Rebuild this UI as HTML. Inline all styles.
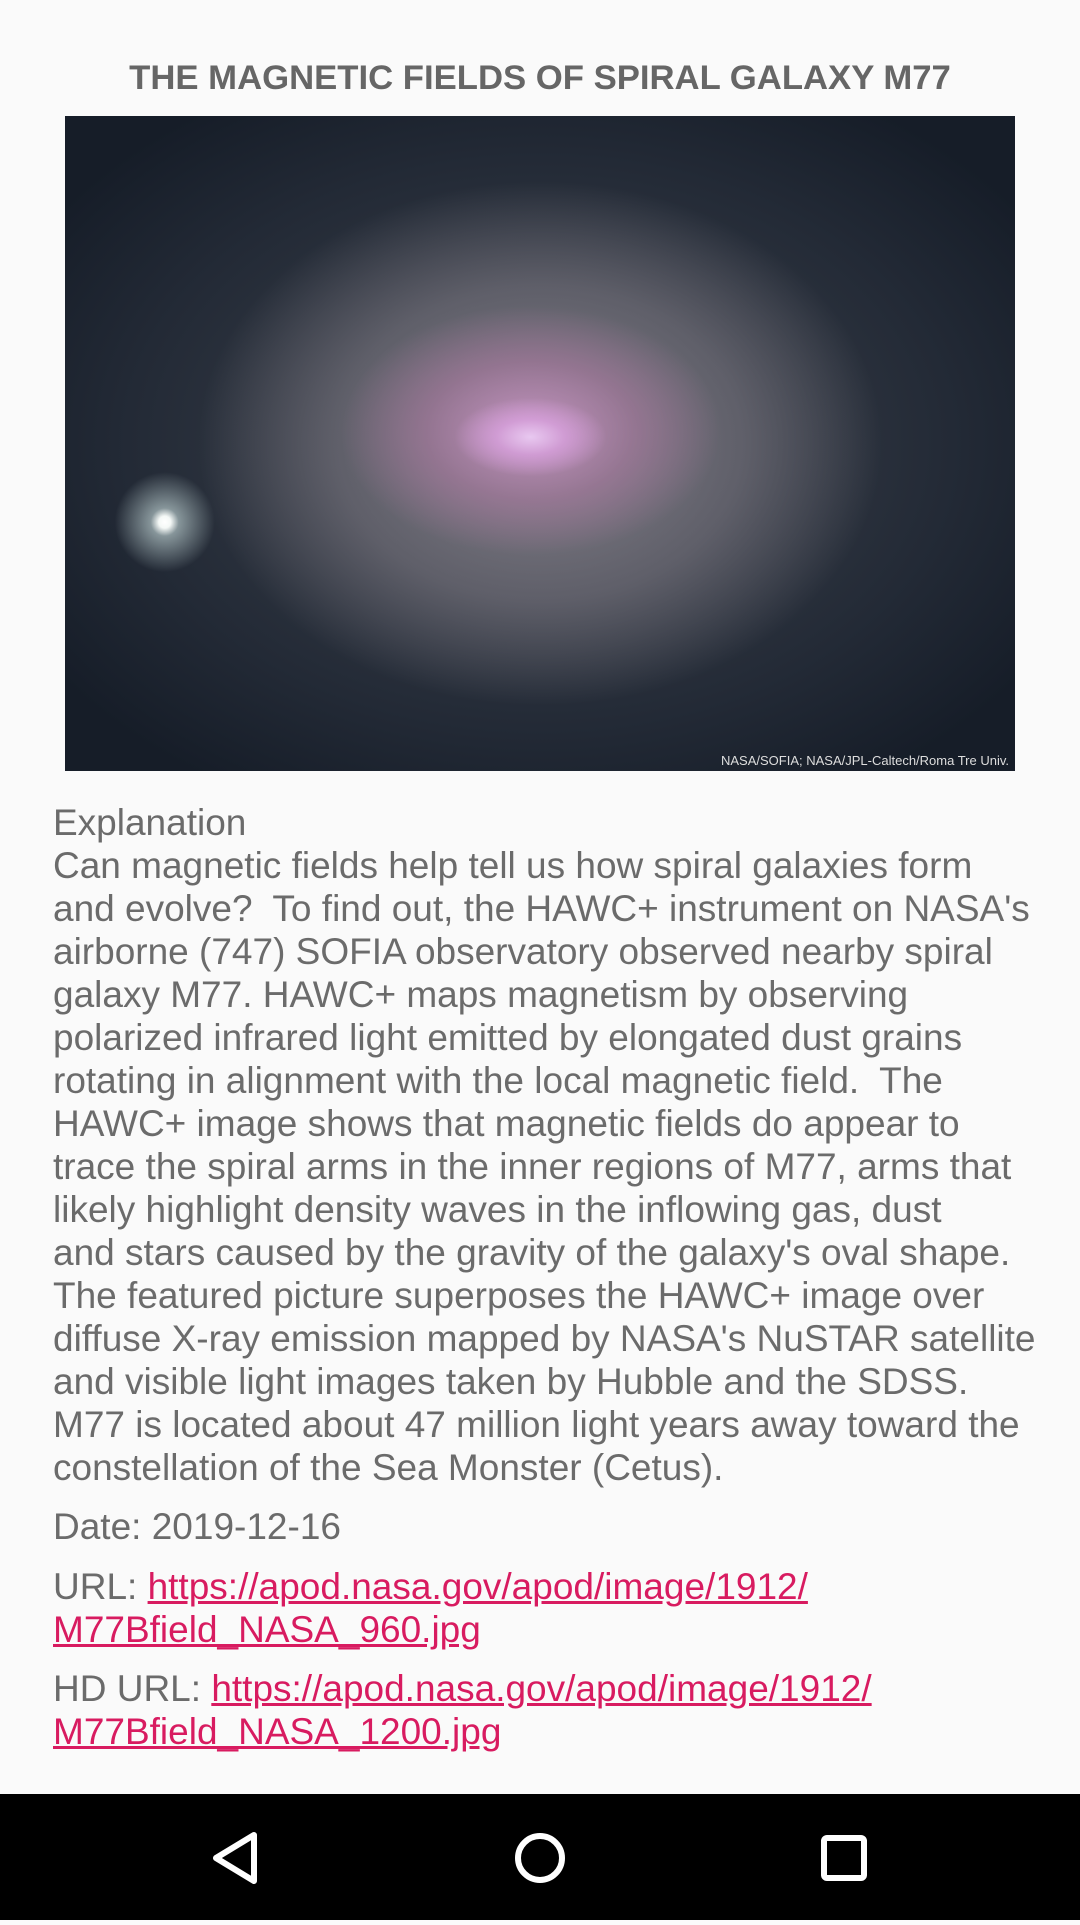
<!DOCTYPE html>
<html><head><meta charset="utf-8"><style>
html,body{margin:0;padding:0;background:#fafafa;width:1080px;height:1920px;overflow:hidden;font-family:"Liberation Sans",sans-serif;color:#6b6b6b}
.title{position:absolute;top:59px;left:0;width:1080px;text-align:center;font-weight:bold;font-size:34.7px;color:#666;white-space:nowrap}
.img{position:absolute;left:65px;top:116px;width:950px;height:655px;overflow:hidden;
background:
radial-gradient(circle at 10.5% 62%, #ffffff 0, #f4f8f6 6px, rgba(200,220,220,.6) 14px, rgba(80,100,110,0) 50px),
radial-gradient(ellipse 8% 6% at 49% 49%, #e8c8f0 0, rgba(215,160,220,.8) 45%, rgba(190,120,190,0) 100%),
radial-gradient(ellipse 20% 19% at 49% 48%, rgba(205,150,200,.85) 0, rgba(170,120,160,.6) 55%, rgba(120,100,115,0) 100%),
radial-gradient(ellipse 36% 40% at 50% 50%, rgba(140,135,145,.9) 0, rgba(110,108,118,.75) 60%, rgba(60,65,75,0) 100%),
radial-gradient(ellipse 62% 62% at 50% 50%, #40464f 0, #232a36 70%, #161d28 100%);}
.credit{position:absolute;right:6px;bottom:3px;font-size:13px;color:#ddd}
.text{position:absolute;left:53px;top:801px;font-size:37px;line-height:43px;white-space:nowrap}
.p{position:absolute;left:53px;font-size:37px;line-height:43px;white-space:nowrap}
a{color:#d81b60;text-decoration:underline}
.nav{position:absolute;left:0;top:1794px;width:1080px;height:126px;background:#000}
</style></head><body>
<div class="title">THE MAGNETIC FIELDS OF SPIRAL GALAXY M77</div>
<div class="img"><div class="credit">NASA/SOFIA; NASA/JPL-Caltech/Roma Tre Univ.</div></div>
<div class="text">Explanation<br>Can magnetic fields help tell us how spiral galaxies form<br>and evolve?&nbsp; To find out, the HAWC+ instrument on NASA's<br>airborne (747) SOFIA observatory observed nearby spiral<br>galaxy M77. HAWC+ maps magnetism by observing<br>polarized infrared light emitted by elongated dust grains<br>rotating in alignment with the local magnetic field.&nbsp; The<br>HAWC+ image shows that magnetic fields do appear to<br>trace the spiral arms in the inner regions of M77, arms that<br>likely highlight density waves in the inflowing gas, dust<br>and stars caused by the gravity of the galaxy's oval shape.<br>The featured picture superposes the HAWC+ image over<br>diffuse X-ray emission mapped by NASA's NuSTAR satellite<br>and visible light images taken by Hubble and the SDSS.<br>M77 is located about 47 million light years away toward the<br>constellation of the Sea Monster (Cetus).</div>
<div class="p" style="top:1505px">Date: 2019-12-16</div>
<div class="p" style="top:1565px">URL: <a>https://apod.nasa.gov/apod/image/1912/<br>M77Bfield_NASA_960.jpg</a></div>
<div class="p" style="top:1667px">HD URL: <a>https://apod.nasa.gov/apod/image/1912/<br>M77Bfield_NASA_1200.jpg</a></div>
<div class="nav" style="top:1794px">
<svg width="1080" height="126">
<polygon points="254,41 254,87 216,64" fill="none" stroke="#fff" stroke-width="6" stroke-linejoin="round"/>
<circle cx="540" cy="64" r="22" fill="none" stroke="#fff" stroke-width="6"/>
<rect x="824" y="44" width="40" height="40" rx="3" fill="none" stroke="#fff" stroke-width="6"/>
</svg></div>
</body></html>
